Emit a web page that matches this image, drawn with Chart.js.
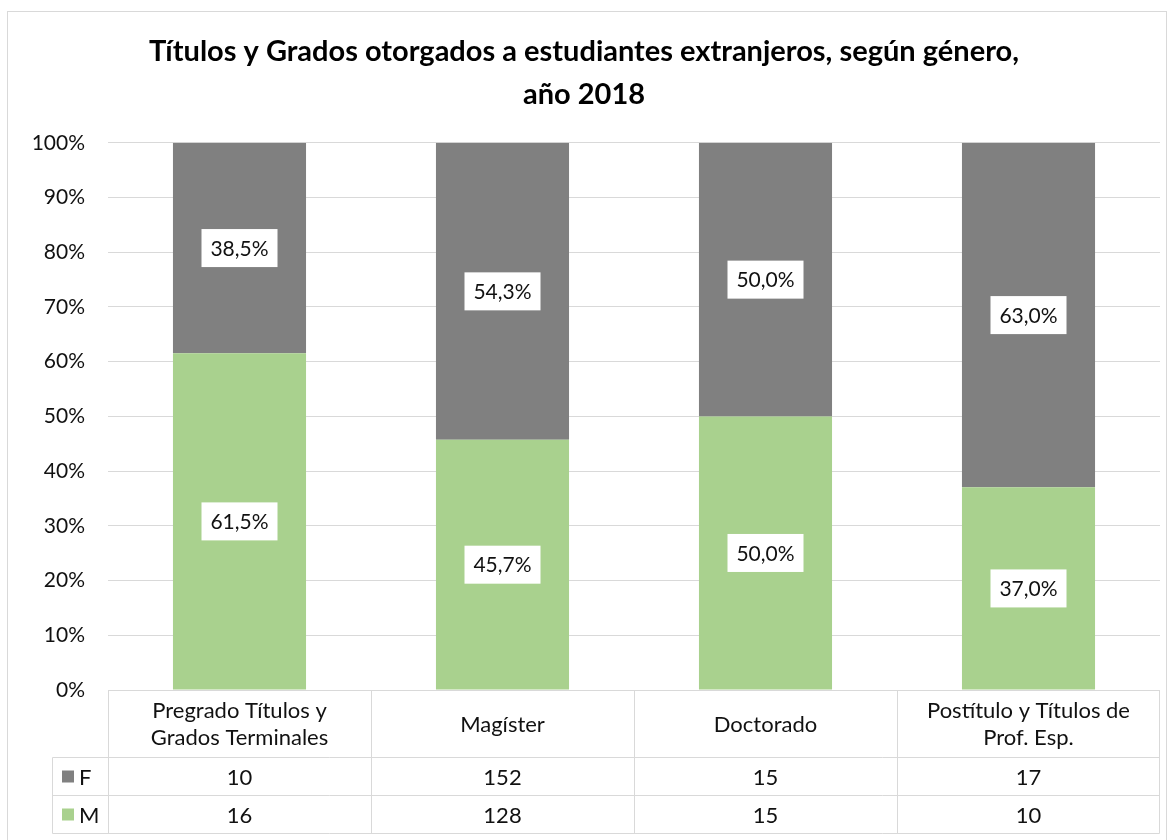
<!DOCTYPE html>
<html>
<head>
<meta charset="utf-8">
<script src="https://cdn.jsdelivr.net/npm/chart.js@4/dist/chart.umd.min.js"></script>
<style>
  body { margin: 0; background: #fff; }
  #wrap { width: 1172px; height: 840px; position: relative; }
</style>
</head>
<body>
<div id="wrap"><canvas id="grafico"></canvas></div>
<script>
// Datos
const categorias = [
    ['Pregrado Títulos y', 'Grados Terminales'],
    ['Magíster'],
    ['Doctorado'],
    ['Postítulo y Títulos de', 'Prof. Esp.']
];
const femenino = [10, 152, 15, 17];
const masculino = [16, 128, 15, 10];
const ticksY = [0, 10, 20, 30, 40, 50, 60, 70, 80, 90, 100];

const COLOR_F = '#808080';
const COLOR_M = '#a9d18e';
const FUENTE = 'Lato, "Noto Sans", sans-serif';
const TEXTO = '#111111';
const LINEA = '#d9d9d9';

// porcentaje de cada género dentro de la categoría
const pctM = masculino.map((m, i) => m / (m + femenino[i]) * 100);
const pctF = femenino.map((f, i) => f / (f + masculino[i]) * 100);

function formato(v) {
    return v.toFixed(1).replace('.', ',') + '%';
}

// Etiquetas blancas sobre cada segmento
const etiquetas = {
    id: 'etiquetas',
    afterDatasetsDraw(chart) {
        const ctx = chart.ctx;
        ctx.save();
        ctx.font = '21px ' + FUENTE;
        ctx.textAlign = 'center';
        ctx.textBaseline = 'middle';
        chart.data.datasets.forEach((ds, d) => {
            chart.getDatasetMeta(d).data.forEach((bar, i) => {
                const cy = (bar.y + bar.base) / 2;
                ctx.fillStyle = '#ffffff';
                ctx.fillRect(bar.x - 38, cy - 19, 76, 38);
                ctx.fillStyle = TEXTO;
                ctx.fillText(formato(ds.data[i]), bar.x, cy + 1);
            });
        });
        ctx.restore();
    }
};

// Tabla de datos bajo el eje (como en Excel)
const tablaDatos = {
    id: 'tablaDatos',
    beforeDraw(chart) {
        const ctx = chart.ctx;
        ctx.save();
        ctx.strokeStyle = LINEA;
        ctx.lineWidth = 1;
        ctx.strokeRect(7.5, 11.5, 1159, 840);
        ctx.restore();
    },
    afterDraw(chart) {
        const ctx = chart.ctx;
        const area = chart.chartArea;
        const x = chart.scales.x;
        const n = categorias.length;
        const ancho = (area.right - area.left) / n;
        const top = Math.round(area.bottom) + 0.5;
        const filaF = top + 67;
        const filaM = filaF + 38;
        const fin = filaM + 38;
        const izqLeyenda = 52.5;
        const izq = Math.round(area.left) + 0.5;
        const der = Math.round(area.right) - 0.5;

        ctx.save();
        ctx.strokeStyle = LINEA;
        ctx.lineWidth = 1;
        ctx.beginPath();
        // horizontales
        ctx.moveTo(izq, top); ctx.lineTo(der, top);
        ctx.moveTo(izqLeyenda, filaF); ctx.lineTo(der, filaF);
        ctx.moveTo(izqLeyenda, filaM); ctx.lineTo(der, filaM);
        ctx.moveTo(izqLeyenda, fin); ctx.lineTo(der, fin);
        // verticales
        ctx.moveTo(izqLeyenda, filaF); ctx.lineTo(izqLeyenda, fin);
        for (let i = 0; i <= n; i++) {
            const px = i === n ? der : Math.round(area.left + i * ancho) + 0.5;
            ctx.moveTo(px, top); ctx.lineTo(px, fin);
        }
        ctx.stroke();

        ctx.fillStyle = TEXTO;
        ctx.font = '22px ' + FUENTE;
        ctx.textAlign = 'center';
        ctx.textBaseline = 'middle';
        categorias.forEach((lineas, i) => {
            const cx = x.getPixelForValue(i);
            const medio = top + 34;
            const alto = 27;
            lineas.forEach((t, k) => {
                ctx.fillText(t, cx, medio + (k - (lineas.length - 1) / 2) * alto);
            });
            ctx.fillText(String(femenino[i]), cx, (filaF + filaM) / 2 + 1);
            ctx.fillText(String(masculino[i]), cx, (filaM + fin) / 2 + 1);
        });

        // leyenda dentro de la tabla
        ctx.textAlign = 'left';
        [[COLOR_F, 'F', (filaF + filaM) / 2], [COLOR_M, 'M', (filaM + fin) / 2]].forEach(([c, t, cy]) => {
            ctx.fillStyle = c;
            ctx.fillRect(62, cy - 6, 12, 12);
            ctx.fillStyle = TEXTO;
            ctx.fillText(t, 79, cy + 1);
        });
        ctx.restore();
    }
};

new Chart(document.getElementById('grafico'), {
    type: 'bar',
    data: {
        labels: categorias,
        datasets: [
            {
                label: 'M',
                data: pctM,
                backgroundColor: COLOR_M,
                categoryPercentage: 1,
                barPercentage: 0.506
            },
            {
                label: 'F',
                data: pctF,
                backgroundColor: COLOR_F,
                categoryPercentage: 1,
                barPercentage: 0.506
            }
        ]
    },
    options: {
        responsive: true,
        maintainAspectRatio: false,
        animation: false,
        layout: {
            padding: { top: 0, left: 8, right: 12, bottom: 150 }
        },
        plugins: {
            legend: { display: false },
            tooltip: { enabled: false },
            title: {
                display: true,
                text: ['Títulos y Grados otorgados a estudiantes extranjeros, según género,', 'año 2018'],
                color: '#000',
                font: { family: FUENTE, size: 29, weight: 'bold', lineHeight: 1.48 },
                padding: { top: 30, bottom: 27 }
            }
        },
        scales: {
            x: {
                display: false,
                stacked: true
            },
            y: {
                stacked: true,
                min: 0,
                max: 100,
                afterFit: s => { s.width = 100; },
                afterBuildTicks: s => { s.ticks = ticksY.map(v => ({ value: v })); },
                border: { display: false },
                grid: { color: LINEA, drawTicks: false },
                ticks: {
                    padding: 23,
                    color: TEXTO,
                    font: { family: FUENTE, size: 21 },
                    callback: v => v + '%'
                }
            }
        }
    },
    plugins: [etiquetas, tablaDatos]
});
</script>
</body>
</html>
